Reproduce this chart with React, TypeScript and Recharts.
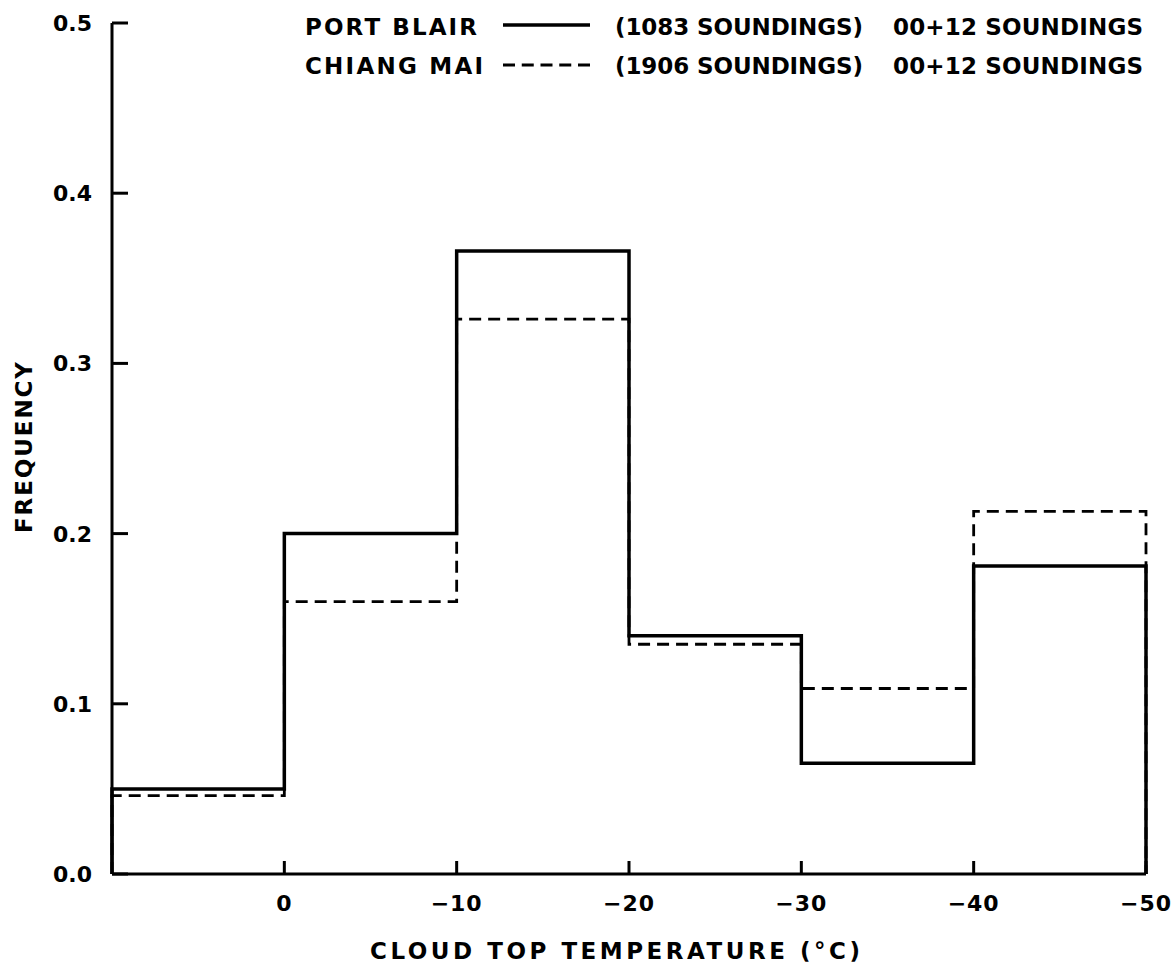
import React from 'react';
import { LineChart, Line, XAxis, YAxis } from 'recharts';

const binEdges = [10, 0, -10, -20, -30, -40, -50];
const portBlair = [0.05, 0.2, 0.366, 0.14, 0.065, 0.181];
const chiangMai = [0.046, 0.16, 0.326, 0.135, 0.109, 0.213];
const xTicks = [0, -10, -20, -30, -40, -50];
const xTickLabels = ['0', '−10', '−20', '−30', '−40', '−50'];
const yTicks = [0, 0.1, 0.2, 0.3, 0.4, 0.5];
const yTickLabels = ['0.0', '0.1', '0.2', '0.3', '0.4', '0.5'];

const seriesNames = ['PORT BLAIR', 'CHIANG MAI'];
const seriesCounts = ['(1083 SOUNDINGS)', '(1906 SOUNDINGS)'];
const seriesTimes = ['00+12 SOUNDINGS', '00+12 SOUNDINGS'];
const xTitle = 'CLOUD TOP TEMPERATURE (°C)';
const yTitle = 'FREQUENCY';

const data = [
  { x: binEdges[0], pb: 0, cm: 0 },
  ...binEdges.slice(0, -1).map((e, i) => ({ x: e, pb: portBlair[i], cm: chiangMai[i] })),
  { x: binEdges[binEdges.length - 1], pb: 0, cm: 0 },
];

const FONT = "'DejaVu Sans', 'Liberation Sans', sans-serif";

const XTick = (props: any) => {
  const { x, y, payload } = props;
  const idx = xTicks.indexOf(payload.value);
  return (
    <g>
      <line x1={x} y1={y} x2={x} y2={y - 13} stroke="#000" strokeWidth={3} />
      <text x={x} y={y + 37} textAnchor="middle" fontFamily={FONT} fontWeight="bold" fontSize={22} fill="#000" letterSpacing={1}>
        {idx >= 0 ? xTickLabels[idx] : payload.value}
      </text>
    </g>
  );
};

const YTick = (props: any) => {
  const { x, y, payload } = props;
  const idx = yTicks.indexOf(payload.value);
  return (
    <g>
      <line x1={x} y1={y} x2={x + 16} y2={y} stroke="#000" strokeWidth={3} />
      <text x={x - 20} y={y + 8} textAnchor="end" fontFamily={FONT} fontWeight="bold" fontSize={22} fill="#000">
        {idx >= 0 ? yTickLabels[idx] : payload.value}
      </text>
    </g>
  );
};

export default function App() {
  return (
    <div style={{ position: 'absolute', left: 0, top: 0, width: 1176, height: 967, background: '#fff' }}>
      <LineChart
        width={1176}
        height={967}
        data={data}
        margin={{ top: 23, right: 30, bottom: 53, left: 52 }}
      >
        <XAxis
          type="number"
          dataKey="x"
          domain={[-50, 10]}
          reversed
          ticks={xTicks}
          interval={0}
          height={40}
          tickSize={0}
          tickMargin={0}
          tickLine={false}
          axisLine={{ stroke: '#000', strokeWidth: 3 }}
          tick={<XTick />}
        />
        <YAxis
          type="number"
          domain={[0, 0.5]}
          ticks={yTicks}
          interval={0}
          width={60}
          tickSize={0}
          tickMargin={0}
          tickLine={false}
          axisLine={{ stroke: '#000', strokeWidth: 3 }}
          tick={<YTick />}
        />
        <Line
          type="stepAfter"
          dataKey="cm"
          stroke="#000"
          strokeWidth={2.8}
          strokeDasharray="12 7"
          dot={false}
          activeDot={false}
          isAnimationActive={false}
        />
        <Line
          type="stepAfter"
          dataKey="pb"
          stroke="#000"
          strokeWidth={3.5}
          dot={false}
          activeDot={false}
          isAnimationActive={false}
        />
      </LineChart>
      <svg
        width={1176}
        height={967}
        style={{ position: 'absolute', left: 0, top: 0, pointerEvents: 'none' }}
      >
        <g fontFamily={FONT} fontWeight="bold" fontSize={23} fill="#000">
          <text x={305} y={35} textLength={172} lengthAdjust="spacing">{seriesNames[0]}</text>
          <line x1={503} y1={25} x2={590} y2={25} stroke="#000" strokeWidth={3.5} />
          <text x={615} y={35} textLength={248} lengthAdjust="spacing">{seriesCounts[0]}</text>
          <text x={893} y={35} textLength={250} lengthAdjust="spacing">{seriesTimes[0]}</text>

          <text x={305} y={74} textLength={178} lengthAdjust="spacing">{seriesNames[1]}</text>
          <line x1={503} y1={65} x2={590} y2={65} stroke="#000" strokeWidth={2.8} strokeDasharray="12 6.75" />
          <text x={615} y={74} textLength={248} lengthAdjust="spacing">{seriesCounts[1]}</text>
          <text x={893} y={74} textLength={250} lengthAdjust="spacing">{seriesTimes[1]}</text>

          <text x={370} y={959} textLength={490} lengthAdjust="spacing">{xTitle}</text>
          <text
            x={0}
            y={0}
            transform="translate(32, 533) rotate(-90)"
            textLength={171}
            lengthAdjust="spacing"
          >
            {yTitle}
          </text>
        </g>
      </svg>
    </div>
  );
}
